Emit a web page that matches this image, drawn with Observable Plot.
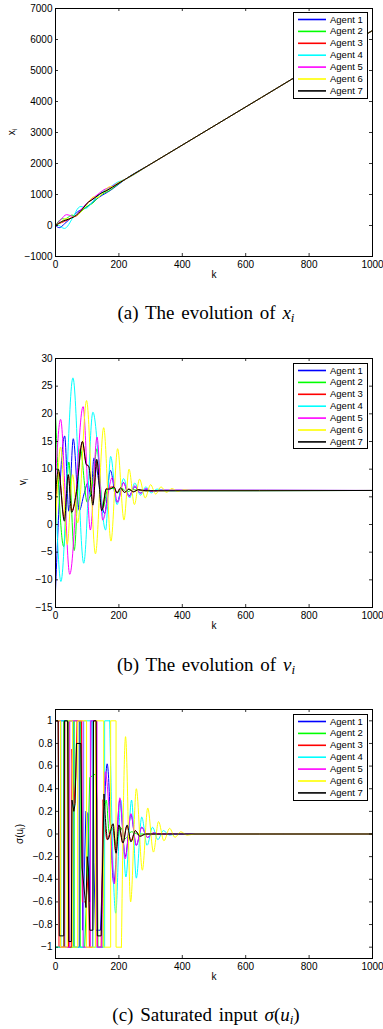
<!DOCTYPE html>
<html><head><meta charset="utf-8">
<script src="https://cdn.jsdelivr.net/npm/d3@7"></script>
<script src="https://cdn.jsdelivr.net/npm/@observablehq/plot@0.6"></script>
<style>
body{margin:0;background:#fff;}
#root{position:relative;width:383px;height:1029px;overflow:hidden;font-family:"Liberation Sans",Arial,sans-serif;background:#fff;}
.legend{position:absolute;background:#fff;border:1.5px solid #000;box-sizing:border-box;}
.legend svg{position:absolute;left:0;top:0;}
.legend .tx{position:absolute;left:36px;font-size:9.5px;line-height:12px;white-space:nowrap;color:#000;}
.cap{position:absolute;font-family:"Liberation Serif","Times New Roman",serif;font-size:19px;line-height:22px;white-space:nowrap;transform:translateX(-50%);word-spacing:2px;color:#000;}
.cap sub{font-size:13px;vertical-align:-3px;line-height:0;}
.ylab{position:absolute;font-size:10px;line-height:10px;white-space:nowrap;transform:translate(-50%,-50%) rotate(-90deg);color:#000;}
.ylab sub{font-size:7px;vertical-align:-2px;line-height:0;}
</style></head><body><div id="root"></div>
<script>
// ---------- categories / styles ----------
const agents = ["Agent 1","Agent 2","Agent 3","Agent 4","Agent 5","Agent 6","Agent 7"];
const colors = ["#0000ff","#00ff00","#ff0000","#00ffff","#ff00ff","#ffff00","#000000"];
// ---------- tick labels ----------
const kTicks = [0,200,400,600,800,1000];
const xTicks = [-1000,0,1000,2000,3000,4000,5000,6000,7000];
const vTicks = [-15,-10,-5,0,5,10,15,20,25,30];
const uTicks = [-1,-0.8,-0.6,-0.4,-0.2,0,0.2,0.4,0.6,0.8,1];

// ---------- (a) positions x_i : [k, x] ----------
const xAgent1 = [[0,0],[12,-70],[29,60],[42,180],[56,310],[75,480],[90,540],[102,620],[121,780],[140,930],[155,1020],[173,1130],[194,1290],[220,1490],[300,1980],[1000,6290]];
const xAgent2 = [[0,0],[22,220],[29,207],[42,280],[52,336],[62,313],[78,423],[100,617],[118,725],[131,868],[150,1026],[165,1097],[200,1350],[220,1490],[300,1980],[1000,6290]];
const xAgent3 = [[0,0],[10,55],[28,130],[40,190],[52,260],[66,310],[85,530],[97,690],[118,850],[131,950],[147,1060],[160,1120],[180,1245],[200,1370],[220,1490],[300,1980],[1000,6290]];
const xAgent4 = [[0,0],[6,18],[28,-95],[55,260],[72,570],[80,613],[89,585],[96,557],[118,777],[138,1000],[158,1150],[174,1250],[194,1390],[220,1490],[300,1980],[1000,6290]];
const xAgent5 = [[0,0],[16,180],[35,350],[45,325],[57,285],[87,590],[108,810],[131,985],[149,1130],[179,1270],[196,1370],[220,1490],[300,1980],[1000,6290]];
const xAgent6 = [[0,0],[16,104],[33,223],[40,211],[54,274],[70,348],[98,665],[121,923],[131,897],[152,1081],[172,1256],[178,1248],[196,1371],[220,1490],[300,1980],[1000,6290]];
const xAgent7 = [[0,0],[20,130],[40,200],[60,290],[85,530],[100,720],[118,850],[131,950],[146,1055],[160,1120],[180,1240],[200,1370],[220,1490],[300,1980],[1000,6290]];

// ---------- (b) velocities v_i : [k, v] ----------
const vAgent1 = [[0,-12],[29,16],[42,2.4],[56,15.5],[75,2.5],[90,5.5],[102,7.5],[112,5],[121,12],[155,2],[173,9.8],[194,4],[214,7.6],[232,5.2],[250,6.8],[268,5.7],[285,6.4],[305,6],[330,6.2],[1000,6.15]];
const vAgent2 = [[0,20],[26,-4],[42,11.3],[59,-4.7],[78,13.7],[100,4],[118,8],[131,13.7],[150,3],[165,6.5],[185,6.5],[195,5.7],[210,6.5],[225,5.9],[245,6.3],[270,6.1],[1000,6.15]];
const vAgent3 = [[0,2],[10,9.5],[28,1],[40,9],[52,2.5],[66,6],[85,15],[97,11],[105,10.5],[118,4],[131,11.5],[147,2.5],[160,6.5],[184,6.8],[194,5.7],[205,6.6],[218,5.8],[230,6.4],[245,5.9],[260,6.3],[280,6.1],[1000,6.15]];
const vAgent4 = [[0,6],[17,-10.3],[55,26.5],[89,-7],[118,20.3],[158,-1],[174,12.3],[194,3.6],[215,8.3],[234,4.8],[250,7.5],[268,5.3],[285,6.8],[302,5.7],[320,6.4],[345,6.1],[1000,6.15]];
const vAgent5 = [[0,8],[16,19],[45,-9],[87,21.3],[110,-1],[131,15.8],[149,0.8],[179,8.5],[196,4],[215,7.6],[232,5],[250,7],[268,5.6],[285,6.5],[305,6],[330,6.2],[1000,6.15]];
const vAgent6 = [[0,-1],[16,14],[37,-3.6],[54,9],[70,0.3],[98,22.4],[126,-5.3],[152,17.5],[175,-3],[196,13.7],[216,0.8],[232,10],[249,3.6],[265,8.2],[283,4.8],[300,7.2],[316,5.5],[333,6.8],[350,5.8],[367,6.5],[385,6],[405,6.25],[430,6.15],[1000,6.15]];
const vAgent7 = [[0,5],[9,10],[28,0.6],[40,9],[51,2.2],[65,5.5],[85,15],[97,10.8],[105,10.5],[118,3.5],[130,11.8],[146,2.5],[160,6.4],[172,6.4],[184,6.8],[194,5.7],[205,6.6],[218,5.8],[232,6.4],[246,5.9],[262,6.3],[285,6.1],[1000,6.15]];

// ---------- (c) saturated input sigma(u_i): saturated part [k, u] ----------
const uSat1 = [[0,1],[29,1],[29,-1],[42,-1],[42,1],[56,1],[56,-1],[75,-1],[75,1],[80,1],[86,-0.85],[96,0.2],[102,0.18],[108,-0.6],[112,1],[118,1],[121,-0.25],[126,-0.85],[142,-0.85],[150,-0.2]];
const uSat2 = [[0,-1],[26,-1],[26,1],[42,1],[42,-1],[59,-1],[59,1],[78,1],[78,-1],[92,-1],[100,-0.42],[108,0.5],[126,0.53],[131,0.3],[134,-1],[150,-1],[152,0.1]];
const uSat3 = [[0,1],[9,1],[11,-1],[27,-1],[29,1],[39,1],[41,-1],[50,-1],[52,0.75],[58,0.26],[64,0.5],[68,1],[82,1],[85,-0.6],[96,-0.6],[104,-0.35],[107,-1],[117,-1],[119,1],[129,1],[132,-1],[144,-1],[150,0.3]];
const uSat4 = [[0,-1],[17,-1],[17,1],[55,1],[55,-1],[89,-1],[89,1],[118,1],[118,-1],[155,-1],[155,1],[171,1]];
const uSat5 = [[0,1],[16,1],[16,-1],[45,-1],[45,1],[87,1],[87,-1],[110,-1],[110,1],[131,1],[131,-1],[146,-1]];
const uSat6 = [[0,1],[16,1],[16,-1],[37,-1],[37,1],[54,1],[54,-1],[70,-1],[70,1],[98,1],[98,-1],[126,-1],[126,1],[152,1],[152,-1],[174,-1],[174,1],[191,1],[191,-1],[208,-1]];
const uSat7 = [[0,1],[8,1],[12,-0.9],[26,-0.9],[28,1],[38,1],[42,-0.95],[50,-0.95],[52,0.3],[58,0.2],[62,0.27],[66,0.8],[80,0.8],[84,-0.3],[96,-0.65],[100,-0.2],[104,-0.3],[108,-0.85],[118,-0.85],[120,1],[128,1],[132,-0.9],[144,-0.9],[153,0.35]];
// damped tail [k, u]
const uTail1 = [[150,-0.2],[163,0.62],[184,-0.44],[203,0.3],[220,-0.2],[238,0.17],[255,-0.1],[272,0.06],[290,-0.03],[310,0.01],[330,0],[1000,0]];
const uTail2 = [[152,0.1],[160,0.3],[170,0],[180,0.05],[192,-0.1],[205,0.06],[220,-0.04],[240,0.02],[260,0],[1000,0]];
const uTail3 = [[150,0.3],[163,-0.05],[180,0.09],[190,-0.16],[200,0.08],[212,-0.08],[225,0.07],[238,-0.06],[252,0.03],[266,-0.02],[285,0],[1000,0]];
const uTail4 = [[171,1],[190,-0.7],[206,0.3],[222,-0.38],[240,0.3],[255,-0.39],[272,0.15],[289,-0.1],[306,0.06],[323,-0.05],[340,0.03],[360,-0.01],[380,0],[1000,0]];
const uTail5 = [[146,-1],[157,0.55],[172,0.1],[186,-0.44],[203,0.32],[220,-0.22],[238,0.18],[255,-0.1],[272,0.06],[290,-0.03],[310,0.01],[330,0],[1000,0]];
const uTail6 = [[208,-1],[221,0.86],[237,-0.6],[255,0.4],[274,-0.32],[291,0.23],[309,-0.16],[325,0.11],[342,-0.06],[360,0.05],[377,-0.03],[395,0.02],[415,-0.01],[440,0],[1000,0]];
const uTail7 = [[153,0.35],[165,-0.05],[182,0.09],[191,-0.17],[200,0.08],[213,-0.08],[226,0.08],[238,-0.07],[252,0.03],[266,-0.02],[285,0],[1000,0]];

const xSeries = [xAgent1,xAgent2,xAgent3,xAgent4,xAgent5,xAgent6,xAgent7];
const vSeries = [vAgent1,vAgent2,vAgent3,vAgent4,vAgent5,vAgent6,vAgent7];
const uSatSeries = [uSat1,uSat2,uSat3,uSat4,uSat5,uSat6,uSat7];
const uTailSeries = [uTail1,uTail2,uTail3,uTail4,uTail5,uTail6,uTail7];

const root = document.getElementById("root");
const fmt = d => (d < 0 ? "\u2212" : "") + String(Math.abs(d));
const W = 383, ML = 55, MR = 11;

function panel({lineMarks, yDomain, yTicks, top, height, mt, mb}) {
  const fh = height - mt - mb, fw = W - ML - MR;
  const marks = lineMarks.slice();
  marks.push(Plot.frame({stroke: "#000", strokeWidth: 1}));
  marks.push(Plot.tickX(kTicks, {x: d => d, insetTop: fh - 3, stroke: "#000", strokeWidth: 0.8}));
  marks.push(Plot.tickX(kTicks, {x: d => d, insetBottom: fh - 3, stroke: "#000", strokeWidth: 0.8}));
  marks.push(Plot.tickY(yTicks, {y: d => d, insetRight: fw - 3, stroke: "#000", strokeWidth: 0.8}));
  marks.push(Plot.tickY(yTicks, {y: d => d, insetLeft: fw - 3, stroke: "#000", strokeWidth: 0.8}));
  marks.push(Plot.axisX(kTicks, {tickSize: 0, tickPadding: 4, label: null, tickFormat: fmt}));
  marks.push(Plot.axisY(yTicks, {tickSize: 0, tickPadding: 3, label: null, tickFormat: fmt}));
  marks.push(Plot.text(["k"], {frameAnchor: "bottom", dy: 21, text: d => d, fontSize: 10, fill: "#000"}));
  const svg = Plot.plot({
    width: W, height, marginTop: mt, marginBottom: mb, marginLeft: ML, marginRight: MR,
    x: {domain: [0, 1000]}, y: {domain: yDomain},
    style: {fontFamily: "Liberation Sans, Arial, sans-serif", fontSize: "10px", color: "#000", background: "transparent", overflow: "visible"},
    marks
  });
  svg.style.position = "absolute"; svg.style.left = "0px"; svg.style.top = top + "px";
  root.appendChild(svg);
}

function legend(top, height) {
  const d = document.createElement("div");
  d.className = "legend";
  d.style.left = "293px"; d.style.top = top + "px"; d.style.width = "75px"; d.style.height = height + "px";
  const ns = "http://www.w3.org/2000/svg";
  const s = document.createElementNS(ns, "svg");
  s.setAttribute("width", "72"); s.setAttribute("height", String(height - 3));
  agents.forEach((name, i) => {
    const c = 6.5 + 11.9 * i;
    const l = document.createElementNS(ns, "line");
    l.setAttribute("x1", "4"); l.setAttribute("x2", "32");
    l.setAttribute("y1", String(c)); l.setAttribute("y2", String(c));
    l.setAttribute("stroke", colors[i]); l.setAttribute("stroke-width", "1.6");
    s.appendChild(l);
    const tx = document.createElement("div");
    tx.className = "tx"; tx.style.top = (c - 6) + "px"; tx.textContent = name;
    d.appendChild(tx);
  });
  d.appendChild(s);
  root.appendChild(d);
}

function ylab(html, cx, cy) {
  const d = document.createElement("div");
  d.className = "ylab"; d.innerHTML = html;
  d.style.left = cx + "px"; d.style.top = cy + "px";
  root.appendChild(d);
}
function caption(html, top) {
  const d = document.createElement("div");
  d.className = "cap"; d.innerHTML = html;
  d.style.left = "206px"; d.style.top = top + "px";
  root.appendChild(d);
}
const lineOf = (s, i, curve) => Plot.line(s, {x: d => d[0], y: d => d[1], stroke: colors[i], strokeWidth: 1, curve});

// (a)
panel({lineMarks: xSeries.map((s, i) => lineOf(s, i, "monotone-x")), yDomain: [-1000, 7000], yTicks: xTicks, top: 0, height: 290, mt: 8, mb: 34});
legend(12, 87);
ylab("x<sub>i</sub>", 12, 132);
caption("(a) The evolution of <i>x<sub>i</sub></i>", 302);

// (b)
panel({lineMarks: vSeries.map((s, i) => lineOf(s, i, "monotone-x")), yDomain: [-15, 30], yTicks: vTicks, top: 340, height: 300, mt: 18, mb: 33});
legend(363, 86);
ylab("v<sub>i</sub>", 23, 482);
caption("(b) The evolution of <i>v<sub>i</sub></i>", 654);

// (c)
const uMarks = [];
for (let i = 0; i < 7; i++) {
  uMarks.push(lineOf(uSatSeries[i], i, "linear"));
  uMarks.push(lineOf(uTailSeries[i], i, "monotone-x"));
}
panel({lineMarks: uMarks, yDomain: [-1.1, 1.1], yTicks: uTicks, top: 690, height: 301, mt: 19, mb: 33});
legend(714, 87);
ylab("\u03c3(u<sub>i</sub>)", 20, 834);
caption("(c) Saturated input <i>\u03c3</i>(<i>u<sub>i</sub></i>)", 1004);
</script></body></html>
